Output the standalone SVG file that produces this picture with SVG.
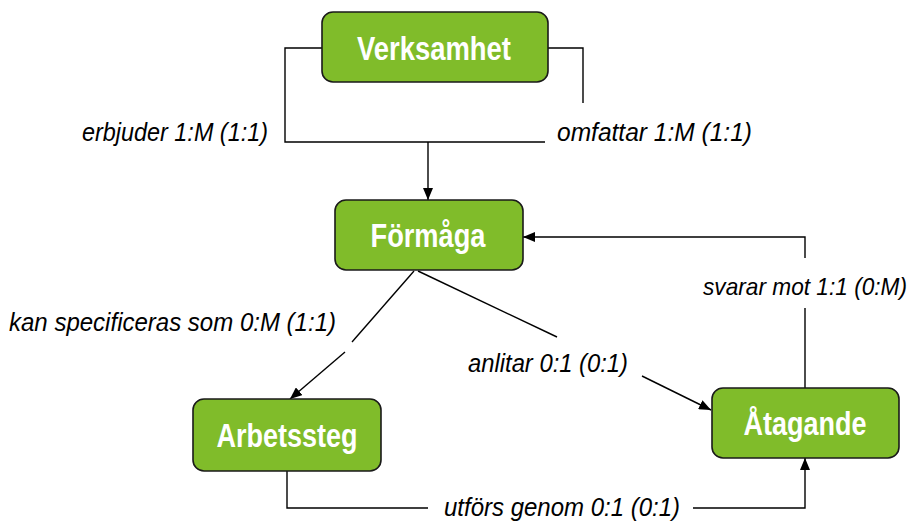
<svg xmlns="http://www.w3.org/2000/svg" width="919" height="521" viewBox="0 0 919 521">
<style>
.node rect{fill:#80bc2a;stroke:#1a1a1a;stroke-width:1.6}
.node text{font-family:"Liberation Sans Narrow","Liberation Sans",Arial,sans-serif;font-weight:bold;font-size:33px;fill:#fff;text-anchor:middle}
.conn path{fill:none;stroke:#000;stroke-width:1.4}
.lbl{font-family:"Liberation Sans Narrow","Liberation Sans",Arial,sans-serif;font-style:italic;font-size:26px;fill:#000}
</style>
<defs>
<marker id="ah" viewBox="0 0 12 10" refX="12" refY="5" markerWidth="12" markerHeight="10" markerUnits="userSpaceOnUse" orient="auto">
<path d="M0,0 L12,5 L0,10 Z" fill="#000"/>
</marker>
</defs>
<rect width="919" height="521" fill="#fff"/>
<g class="conn">
<path d="M322,48 H285 V142 H545"/>
<path d="M548,48 H583 V103"/>
<path d="M428,142 V200" marker-end="url(#ah)"/>
<path d="M805,388 V308"/>
<path d="M805,258 V237 H523" marker-end="url(#ah)"/>
<path d="M414,271 L352,342"/>
<path d="M345,352 L290,399" marker-end="url(#ah)"/>
<path d="M418,271 L557,337"/>
<path d="M642,376 L711,410" marker-end="url(#ah)"/>
<path d="M287,471 V508 H428"/>
<path d="M693,508 H805 V458" marker-end="url(#ah)"/>
</g>
<g class="labels">
<text class="lbl" x="82" y="141" textLength="186" lengthAdjust="spacingAndGlyphs">erbjuder 1:M (1:1)</text>
<text class="lbl" x="557" y="141" textLength="195" lengthAdjust="spacingAndGlyphs">omfattar 1:M (1:1)</text>
<text class="lbl" x="703" y="295" textLength="204" lengthAdjust="spacingAndGlyphs" style="font-size:24px">svarar mot 1:1 (0:M)</text>
<text class="lbl" x="9" y="331" textLength="327" lengthAdjust="spacingAndGlyphs">kan specificeras som 0:M (1:1)</text>
<text class="lbl" x="468" y="372" textLength="160" lengthAdjust="spacingAndGlyphs">anlitar 0:1 (0:1)</text>
<text class="lbl" x="444" y="516" textLength="236" lengthAdjust="spacingAndGlyphs">utförs genom 0:1 (0:1)</text>
</g>
<g id="verksamhet" class="node">
<rect x="322" y="12" width="226" height="70" rx="11"/>
<text x="434" y="60" textLength="154" lengthAdjust="spacingAndGlyphs">Verksamhet</text>
</g>
<g id="formaga" class="node">
<rect x="335" y="200" width="188" height="70" rx="11"/>
<text x="428" y="247" textLength="115" lengthAdjust="spacingAndGlyphs">Förmåga</text>
</g>
<g id="arbetssteg" class="node">
<rect x="193" y="399" width="188" height="72" rx="11"/>
<text x="287" y="447" textLength="141" lengthAdjust="spacingAndGlyphs">Arbetssteg</text>
</g>
<g id="atagande" class="node">
<rect x="712" y="388" width="187" height="70" rx="11"/>
<text x="805" y="435" textLength="123" lengthAdjust="spacingAndGlyphs">Åtagande</text>
</g>
</svg>
